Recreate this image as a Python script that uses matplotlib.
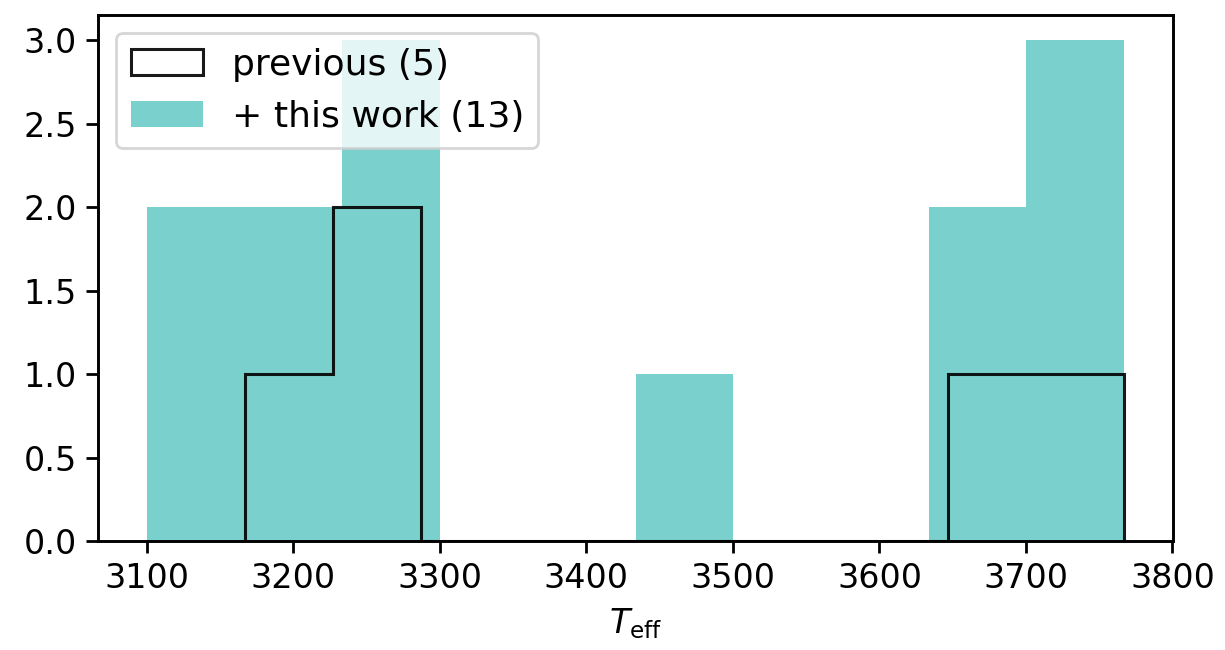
import numpy as np
import matplotlib
matplotlib.use("Agg")
import matplotlib.pyplot as plt

# Histogram bin edges (K) and counts per bin
prev_edges = [3167, 3227, 3287, 3347, 3407, 3467, 3527, 3587, 3647, 3707, 3767]
prev_counts = [1, 2, 0, 0, 0, 0, 0, 0, 1, 1]

all_edges = [3100.0, 3166.7, 3233.4, 3300.1, 3366.8, 3433.5, 3500.2, 3566.9, 3633.6, 3700.3, 3767.0]
all_counts = [2, 2, 3, 0, 0, 1, 0, 0, 2, 3]

prev_label = "previous (5)"
all_label = "+ this work (13)"

plt.rcParams["font.family"] = "DejaVu Sans"
plt.rcParams["font.size"] = 12
plt.rcParams["axes.linewidth"] = 1.05
plt.rcParams["xtick.major.width"] = 1.0
plt.rcParams["ytick.major.width"] = 1.0
plt.rcParams["xtick.major.size"] = 4.2
plt.rcParams["ytick.major.size"] = 4.2

fig = plt.figure(figsize=(6.125, 3.25), dpi=200)
ax = fig.add_axes([98 / 1225, 1 - 541 / 650, (1173 - 98) / 1225, (541 - 15) / 650])

def centers(edges):
    e = np.asarray(edges, dtype=float)
    return 0.5 * (e[:-1] + e[1:])

ax.hist(centers(prev_edges), bins=prev_edges, weights=prev_counts,
        histtype="step", color="k", alpha=0.9, lw=1.1, zorder=3, label=prev_label)
ax.hist(centers(all_edges), bins=all_edges, weights=all_counts,
        color="lightseagreen", alpha=0.6, zorder=2, label=all_label)

ax.set_xlabel(r"$T_{\rm eff}$")
ax.legend(loc="upper left", fontsize=13)

fig.savefig("out.png", dpi=200)
